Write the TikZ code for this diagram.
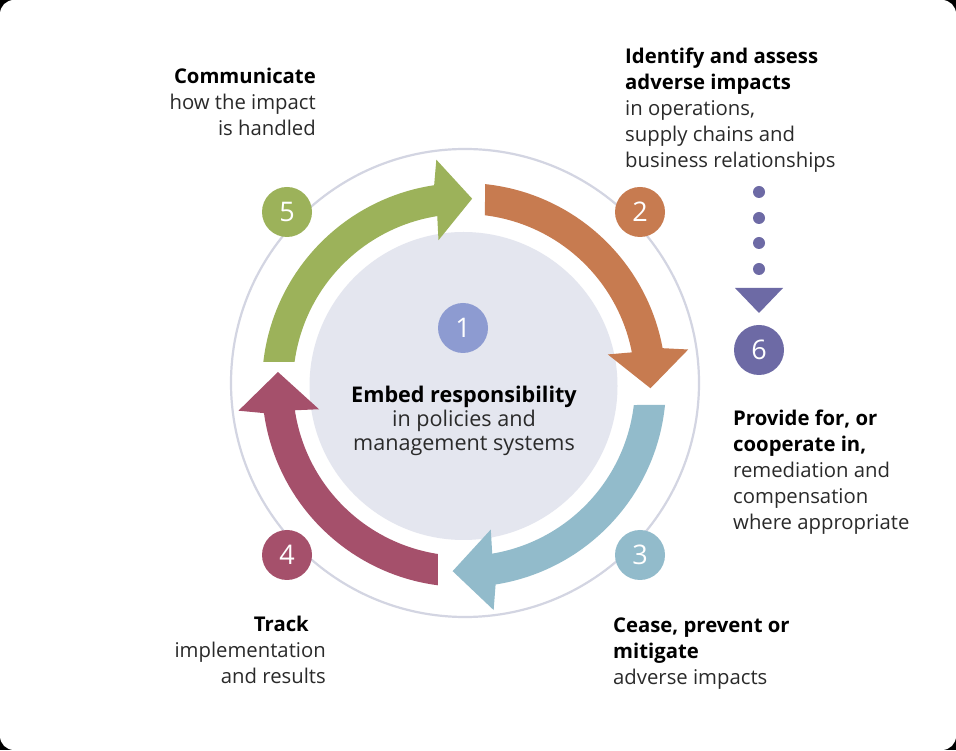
\documentclass[tikz,border=0pt]{standalone}
\usepackage{fontspec}
\setmainfont{Open Sans}
\usetikzlibrary{calc}
\definecolor{cgreen}{HTML}{9CB25A}
\definecolor{corange}{HTML}{C77B50}
\definecolor{cblue}{HTML}{92BBCB}
\definecolor{cred}{HTML}{A5506B}
\definecolor{cpurple}{HTML}{8D9BD1}
\definecolor{cdark}{HTML}{6D6AA5}
\definecolor{cinner}{HTML}{E4E6EF}
\definecolor{cring}{HTML}{D3D5E2}
\definecolor{ctext}{HTML}{2A2A2A}
\newcommand{\cyclearr}[5]{%
  \fill[#1] (#2:202pt) arc[start angle=#2, end angle=#4, radius=202pt]
    -- (#4-1.5:227pt) -- (#5:186.5pt) -- (#4+1.5:147pt) -- (#4+0.5:171pt)
    arc[start angle=#4+0.5, end angle=#3, radius=171pt] -- cycle;}
\tikzset{
  lbl/.style={inner sep=0pt, text=ctext, font=\fontsize{20.3}{26}\selectfont},
  numc/.style={circle, minimum size=50pt, inner sep=0pt, text=white, font=\fontsize{27}{27}\selectfont},
  dotc/.style={circle, fill=cdark, minimum size=12pt, inner sep=0pt},
}
\begin{document}
\begin{tikzpicture}[x=1pt,y=1pt]
\fill[black] (0,0) rectangle (956,750);
\fill[white, rounded corners=14pt] (0,0) rectangle (956,750);
\useasboundingbox (0,0) rectangle (956,750);
% ring and inner disc
\draw[cring, line width=2.2pt] (465,367) circle[radius=234pt];
\fill[cinner] (463.5,364) circle[radius=154pt];
% arrows
\begin{scope}[shift={(464,365)}]
\cyclearr{cgreen}{173.46}{172.27}{98.5}{87.5}
\cyclearr{corange}{84.03}{82.95}{10.5}{-1}
\cyclearr{cblue}{-5.68}{-6.72}{-81}{-93.5}
\cyclearr{cred}{-97.4}{-98.75}{-172}{-184}
\end{scope}
% number circles
\node[numc, fill=cpurple] (n1) at (463,422) {1};
\node[numc, fill=corange] (n2) at (640,538) {2};
\node[numc, fill=cblue] (n3) at (640,195) {3};
\node[numc, fill=cred] (n4) at (287,195) {4};
\node[numc, fill=cgreen] (n5) at (287,538) {5};
\node[numc, fill=cdark] (n6) at (759,400) {6};
% dotted link to 6
\node[dotc] (d1) at (759,558) {};
\node[dotc] (d2) at (759,532) {};
\node[dotc] (d3) at (759,507) {};
\node[dotc] (d4) at (759,481) {};
\coordinate (tl) at (735,462);
\coordinate (tr) at (783,462);
\coordinate (tt) at (759,437);
\fill[cdark] (tl) -- (tr) -- (tt) -- cycle;
% texts
\node[lbl, anchor=north east, align=right] (tcomm) at (316,682)
  {\textbf{\color{black}Communicate}\\how the impact\\is handled};
\node[lbl, anchor=north west, align=left] (tident) at (625,702)
  {\textbf{\color{black}Identify and assess}\\\textbf{\color{black}adverse impacts}\\in operations,\\supply chains and\\business relationships};
\node[lbl, anchor=north west, align=left] (tprov) at (733,340)
  {\textbf{\color{black}Provide for, or}\\\textbf{\color{black}cooperate in,}\\remediation and\\compensation\\where appropriate};
\node[lbl, anchor=north west, align=left] (tcease) at (613,132)
  {\textbf{\color{black}Cease, prevent or}\\\textbf{\color{black}mitigate}\\adverse impacts};
\node[lbl, anchor=north east, align=right] (ttrack) at (326,134)
  {\textbf{\color{black}Track}\kern17pt\\implementation\\and results};
\node[lbl, anchor=north, align=center, font=\fontsize{21.6}{24}\selectfont] (tcenter) at (464,364)
  {\textbf{\color{black}Embed responsibility}\\in policies and\\management systems};
\end{tikzpicture}
\end{document}
